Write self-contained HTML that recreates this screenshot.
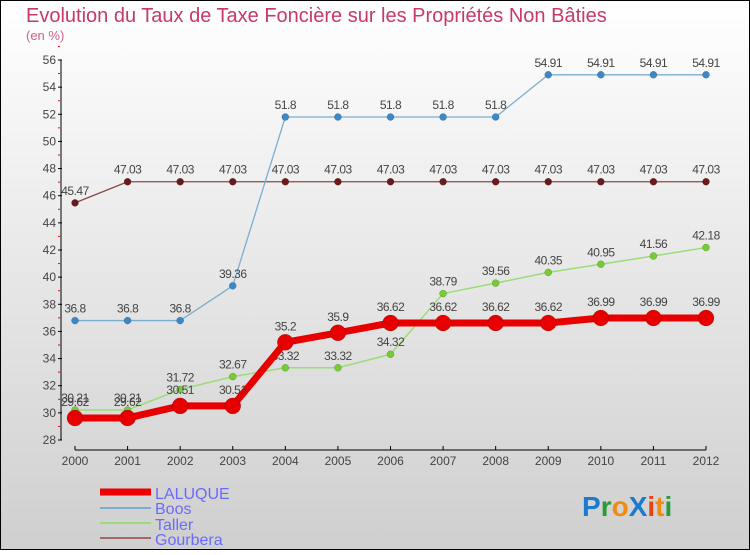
<!DOCTYPE html>
<html><head><meta charset="utf-8"><style>
body{margin:0;width:750px;height:550px;overflow:hidden;font-family:"Liberation Sans",sans-serif}
</style></head><body>
<svg width="750" height="550" xmlns="http://www.w3.org/2000/svg">
<defs><linearGradient id="bg" x1="0" y1="0" x2="0" y2="1"><stop offset="0" stop-color="#ffffff"/><stop offset="1" stop-color="#cfcfcf"/></linearGradient></defs>
<rect x="0.5" y="0.5" width="749" height="549" fill="url(#bg)" stroke="#000"/>
<text x="26" y="22" font-size="20" fill="#c8386a">Evolution du Taux de Taxe Foncière sur les Propriétés Non Bâties</text>
<text x="26" y="40" font-size="13" fill="#d06088">(en %)</text>
<g id="axes"></g><g id="series"></g>
<g>
<line x1="100" y1="492" x2="151" y2="492" stroke="#e00" stroke-width="7"/>
<text x="155" y="499" font-size="16" fill="#6a6aff">LALUQUE</text>
<line x1="100" y1="508" x2="151" y2="508" stroke="#7aaed0" stroke-width="2"/>
<text x="155" y="514" font-size="16" fill="#6a6aff">Boos</text>
<line x1="100" y1="523" x2="151" y2="523" stroke="#99dd77" stroke-width="2"/>
<text x="155" y="530" font-size="16" fill="#6a6aff">Taller</text>
<line x1="100" y1="538" x2="151" y2="538" stroke="#a06868" stroke-width="2"/>
<text x="155" y="545" font-size="16" fill="#6a6aff">Gourbera</text>
</g>
<g font-size="28" font-weight="bold">
<text x="582" y="516"><tspan fill="#1a7ad0">P</tspan><tspan fill="#2a9a3a">r</tspan><tspan fill="#f08a10">o</tspan><tspan fill="#1a7ad0">X</tspan><tspan fill="#e84010">i</tspan><tspan fill="#f08a10">t</tspan><tspan fill="#2a9a3a">i</tspan></text>
</g>
</svg>
<script>
const years=[2000,2001,2002,2003,2004,2005,2006,2007,2008,2009,2010,2011,2012];
const yTicks=[28,30,32,34,36,38,40,42,44,46,48,50,52,54,56];
const laluque=[29.62,29.62,30.51,30.51,35.2,35.9,36.62,36.62,36.62,36.62,36.99,36.99,36.99];
const boos=[36.8,36.8,36.8,39.36,51.8,51.8,51.8,51.8,51.8,54.91,54.91,54.91,54.91];
const taller=[30.21,30.21,31.72,32.67,33.32,33.32,34.32,38.79,39.56,40.35,40.95,41.56,42.18];
const gourbera=[45.47,47.03,47.03,47.03,47.03,47.03,47.03,47.03,47.03,47.03,47.03,47.03,47.03];
const NS="http://www.w3.org/2000/svg";
const X=i=>75+i*(706-75)/(years.length-1);
const Y=v=>440-(v-28)*(380/28);
function mk(p,t,a){const e=document.createElementNS(NS,t);for(const k in a)e.setAttribute(k,a[k]);p.appendChild(e);return e;}
const ax=document.getElementById('axes');
let l=mk(ax,'line',{x1:61,y1:60,x2:61,y2:440,stroke:'#000'});


yTicks.forEach(v=>{mk(ax,'line',{x1:58,y1:Y(v),x2:62,y2:Y(v),stroke:'#000'});
 mk(ax,'line',{x1:58,y1:Y(v+1),x2:60,y2:Y(v+1),stroke:'#f00'});
 const t=mk(ax,'text',{x:56,y:Y(v)+4,'font-size':12,fill:'#444','text-anchor':'end'});t.textContent=v;
 
 });
l=mk(ax,'line',{x1:75,y1:450,x2:706,y2:450,stroke:'#000'});


years.forEach((y,i)=>{mk(ax,'line',{x1:X(i),y1:446,x2:X(i),y2:450,stroke:'#000'});
 const t=mk(ax,'text',{x:X(i),y:465,'font-size':12,fill:'#444','text-anchor':'middle'});t.textContent=y;
 
 });
const sg=document.getElementById('series');
function series(name,data,color,w,r,dot,above){
 const g=mk(sg,'g',{});
 
 
 mk(g,'polyline',{points:data.map((v,i)=>X(i)+','+Y(v)).join(' '),fill:'none',stroke:color,'stroke-width':w,'stroke-linejoin':'round'});
 data.forEach((v,i)=>{const c=mk(g,'circle',{cx:X(i),cy:Y(v),r:r,fill:dot,stroke:'rgba(0,0,0,0.3)','stroke-width':0.5});
  
  
  const t=mk(g,'text',{x:X(i),y:Y(v)-(above||8),'font-size':12,fill:'#444','text-anchor':'middle','letter-spacing':'-0.5'});t.textContent=v;});
}
series('gourbera',gourbera,'#8a4a4a',1.3,3.5,'#6a1a1a');
series('boos',boos,'#7aaed0',1.3,3.5,'#3a88c8');
series('taller',taller,'#99dd77',1.5,3.5,'#77cc33');
series('laluque',laluque,'#e80000',7,8,'#e80000',12);
</script>
</body></html>
